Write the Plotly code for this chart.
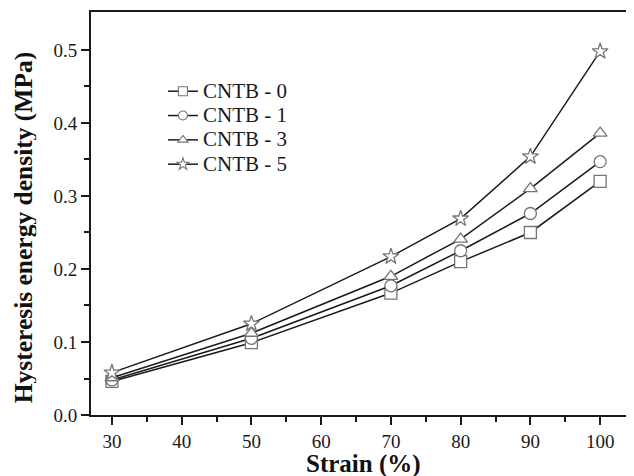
import plotly.graph_objects as go

strain = [30, 50, 70, 80, 90, 100]

cntb_0 = [0.046, 0.099, 0.167, 0.210, 0.250, 0.320]
cntb_1 = [0.048, 0.105, 0.177, 0.225, 0.276, 0.347]
cntb_3 = [0.051, 0.112, 0.190, 0.241, 0.310, 0.386]
cntb_5 = [0.058, 0.125, 0.217, 0.269, 0.354, 0.498]

names = ["CNTB - 0", "CNTB - 1", "CNTB - 3", "CNTB - 5"]
symbols = ["square", "circle", "triangle-up", "star"]
series = [cntb_0, cntb_1, cntb_3, cntb_5]

font = "Liberation Serif, Times New Roman, serif"
ink = "#1a1a1a"
marker_grey = "#767676"

fig = go.Figure()

for name, sym, vals in zip(names, symbols, series):
    fig.add_trace(go.Scatter(
        x=strain, y=vals, name=name, mode="lines+markers", showlegend=False,
        line=dict(color=ink, width=1.5),
        marker=dict(symbol=sym, size=12, color="white",
                    line=dict(color=marker_grey, width=1.3)),
    ))

# legend entries with the smaller symbols used in the key
for name, sym in zip(names, symbols):
    fig.add_trace(go.Scatter(
        x=[None], y=[None], mode="lines+markers",
        name='<span style="font-size:21px">%s</span>' % name,
        line=dict(color=ink, width=1.5),
        marker=dict(symbol=sym, size=9, color="white",
                    line=dict(color=marker_grey, width=1.1)),
    ))

# page body adds 8px offset, so the figure is sized to fit the window
fig.update_layout(
    width=626, height=468,
    margin=dict(l=83, r=0, t=4, b=61),
    plot_bgcolor="white", paper_bgcolor="white",
    font=dict(family=font, size=19, color=ink),
    showlegend=True,
    legend=dict(x=0.133, y=0.846, xanchor="left", yanchor="top",
                font=dict(size=16.4, family=font, color=ink),
                bgcolor="rgba(0,0,0,0)", tracegroupgap=0, itemwidth=30),
    xaxis=dict(
        range=[27, 104.57], tickvals=[30, 40, 50, 60, 70, 80, 90, 100],
        ticks="outside", ticklen=8, tickwidth=1.5, tickcolor=ink,
        showline=True, linecolor=ink, linewidth=1.8, mirror=True,
        showgrid=False, zeroline=False,
        minor=dict(tickvals=[35, 45, 55, 65, 75, 85, 95], ticks="outside",
                   ticklen=5, tickwidth=1.5, tickcolor=ink),
    ),
    yaxis=dict(
        range=[0, 0.552], tickvals=[0, 0.1, 0.2, 0.3, 0.4, 0.5], tickformat=".1f",
        ticks="outside", ticklen=8, tickwidth=1.5, tickcolor=ink,
        showline=True, linecolor=ink, linewidth=1.8, mirror=True,
        showgrid=False, zeroline=False,
        minor=dict(tickvals=[0.05, 0.15, 0.25, 0.35, 0.45], ticks="outside",
                   ticklen=5, tickwidth=1.5, tickcolor=ink),
    ),
    annotations=[
        dict(text="<b>Strain (%)</b>", xref="paper", yref="paper",
             x=0.5046, y=-0.1216, xanchor="center", yanchor="middle",
             showarrow=False, font=dict(size=25, family=font, color="#111")),
        dict(text="<b>Hysteresis energy density (MPa)</b>", xref="paper", yref="paper",
             x=-0.1252, y=0.4665, xanchor="center", yanchor="middle",
             showarrow=False, textangle=-90, height=26,
             font=dict(size=25.5, family=font, color="#111")),
    ],
)

fig.write_html("out.html")
